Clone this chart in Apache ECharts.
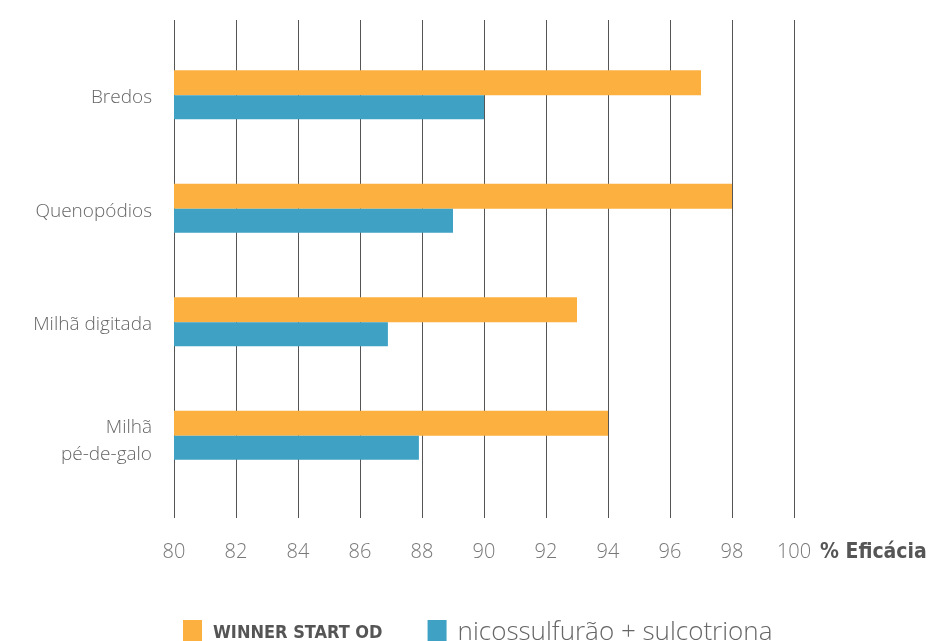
<!DOCTYPE html>
<html>
<head>
<meta charset="utf-8">
<script src="https://cdn.jsdelivr.net/npm/echarts@6/dist/echarts.min.js"></script>
<style>
  html, body { margin: 0; padding: 0; background: #fff; }
  #chart { width: 937px; height: 641px; }
</style>
</head>
<body>
<div id="chart"></div>
<script>
// categories, top to bottom
const categories = ['Bredos', 'Quenopódios', 'Milhã digitada', 'Milhã\npé-de-galo']
const winnerValues = [97, 98, 93, 94]
const nicoValues = [90, 89, 86.9, 87.9]
const seriesNames = ['WINNER START OD', 'nicossulfurão + sulcotriona']
const xMin = 80
const xMax = 100
const xStep = 2

const chart = echarts.init(document.getElementById('chart'))

const fontCond = "'DejaVu Sans Condensed', Roboto, sans-serif"
const fontLight = "'Open Sans', sans-serif"

// labels sit a little lower than the bar pair: a thin spacer line on top
const catLabel = value => {
  const lines = value.split('\n')
  const spacer = lines.length === 1 ? '{t|}' : '{s|}'
  return spacer + '\n' + lines.map(l => '{a|' + l + '}').join('\n')
}

const option = {
  animation: false,
  backgroundColor: '#fff',
  grid: [
    // grid lines + tick labels (taller)
    { left: 174, right: 143, top: 20, height: 498 },
    // bars
    { left: 174, right: 143, top: 38, height: 454 }
  ],
  xAxis: [
    {
      gridIndex: 0,
      type: 'value',
      min: xMin,
      max: xMax,
      interval: xStep,
      axisLine: { show: false },
      axisTick: { show: false },
      splitLine: { show: true, lineStyle: { color: '#555', width: 1 } },
      axisLabel: {
        margin: 24,
        color: '#777',
        fontSize: 20,
        fontWeight: 300,
        fontFamily: fontLight
      }
    },
    {
      gridIndex: 1,
      type: 'value',
      min: xMin,
      max: xMax,
      show: false
    }
  ],
  yAxis: [
    {
      gridIndex: 0,
      type: 'category',
      data: categories,
      show: false
    },
    {
      gridIndex: 1,
      type: 'category',
      data: categories,
      inverse: true,
      axisLine: { show: false },
      axisTick: { show: false },
      axisLabel: {
        margin: 22,
        color: '#666',
        fontSize: 19,
        fontWeight: 300,
        fontFamily: fontLight,
        lineHeight: 27,
        formatter: catLabel,
        rich: {
          a: { color: '#666', fontSize: 19, lineHeight: 27, fontFamily: fontLight, fontWeight: 300 },
          s: { fontSize: 1, lineHeight: 12 },
          t: { fontSize: 1, lineHeight: 6 }
        }
      }
    }
  ],
  legend: {
    data: seriesNames,
    left: 178,
    top: 615,
    itemWidth: 19,
    itemHeight: 26,
    itemGap: 45,
    icon: 'rect',
    formatter: name => name === seriesNames[0] ? '{b|' + name + '}' : '{n|' + name + '}',
    textStyle: {
      padding: [0, 0, 0, 6],
      rich: {
        b: { fontSize: 18, fontWeight: 'bold', color: '#555', fontFamily: fontCond },
        n: { fontSize: 26, color: '#666', fontFamily: fontLight, fontWeight: 300 }
      }
    }
  },
  graphic: [
    {
      type: 'text',
      left: 820,
      top: 542,
      style: {
        text: '% Eficácia',
        fill: '#555',
        fontSize: 21,
        fontWeight: 'bold',
        fontFamily: fontCond
      }
    }
  ],
  series: [
    {
      name: 'grid',
      type: 'bar',
      xAxisIndex: 0,
      yAxisIndex: 0,
      data: []
    },
    {
      name: seriesNames[0],
      type: 'bar',
      xAxisIndex: 1,
      yAxisIndex: 1,
      data: winnerValues,
      barWidth: 25,
      barGap: '0%',
      itemStyle: { color: '#fbb040' }
    },
    {
      name: seriesNames[1],
      type: 'bar',
      xAxisIndex: 1,
      yAxisIndex: 1,
      data: nicoValues,
      barWidth: 24,
      barGap: '0%',
      itemStyle: { color: '#3fa1c4' }
    }
  ]
}

chart.setOption(option)
</script>
</body>
</html>
